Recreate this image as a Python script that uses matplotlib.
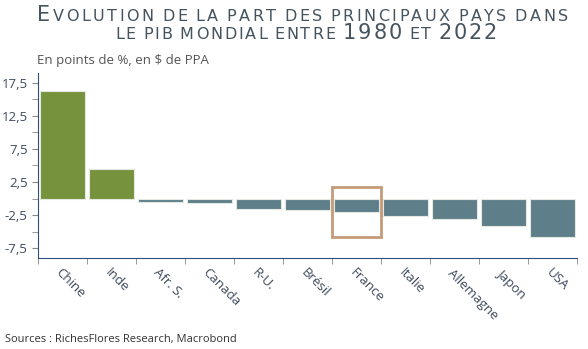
import numpy as np
import matplotlib.pyplot as plt
from matplotlib.patches import Rectangle

pays = ["Chine", "Inde", "Afr. S.", "Canada", "R-U.", "Brésil", "France",
        "Italie", "Allemagne", "Japon", "USA"]
variation = [16.2, 4.5, -0.5, -0.75, -1.6, -1.8, -2.0, -2.7, -3.1, -4.2, -5.8]
yticks = [-7.5, -2.5, 2.5, 7.5, 12.5, 17.5]
yticklabels = ["-7,5", "-2,5", "2,5", "7,5", "12,5", "17,5"]
highlight = "France"

vert = "#76923C"
bleu = "#5E7F8A"
titre_col = "#44535E"
texte_col = "#3E4A5C"

plt.rcParams['font.family'] = ['Open Sans', 'DejaVu Sans']

fig = plt.figure(figsize=(5.88, 3.49), dpi=100)
ax = fig.add_axes([38/588, 1-258/349, (577-38)/588, (258-73)/349])

x = np.arange(len(pays))
cols = [vert if v > 0 else bleu for v in variation]
ax.bar(x, variation, width=0.9, color=cols, edgecolor="#e3e8e0", linewidth=0.8, zorder=2)

i = pays.index(highlight)
ax.add_patch(Rectangle((i - 0.5, -5.8), 1.0, 7.5, fill=False,
                       edgecolor="#C49A78", linewidth=2.0, zorder=3))

ax.set_xlim(-0.5, len(pays) - 0.5)
ax.set_ylim(-9, 19)
ax.set_yticks(yticks)
ax.set_yticklabels(yticklabels)
ax.set_yticks([-5, 0, 5, 10, 15], minor=True)
ax.set_xticks(x)
ax.set_xticklabels(pays, rotation=-45, ha="left", va="top", rotation_mode="anchor")
ax.set_xticks(np.arange(len(pays) + 1) - 0.5, minor=True)
ax.tick_params(axis="x", which="major", length=0, pad=6, labelsize=9.5, labelcolor=texte_col)
ax.tick_params(axis="x", which="minor", length=4, color="#888888")
ax.tick_params(axis="y", which="both", length=4, color="#888888", labelsize=9.5, labelcolor=texte_col)

for s in ["top", "right"]:
    ax.spines[s].set_visible(False)
ax.spines["left"].set_color("#2F4E7E")
ax.spines["bottom"].set_color("#2F4E7E")

# title in small caps with letter spacing, placed char by char
renderer = fig.canvas.get_renderer()
W, H = fig.get_size_inches() * fig.dpi


def petites_caps(pieces, y_px, x0_px, x1_px):
    objs = []
    for txt, size in pieces:
        for c in txt:
            if c == " ":
                objs.append((None, size * 0.3))
            else:
                t = fig.text(0, 1 - y_px / H, c, fontsize=size, color=titre_col,
                             family="DejaVu Sans", va="baseline", ha="left")
                objs.append((t, t.get_window_extent(renderer).width))
    natural = sum(w for _, w in objs)
    track = (x1_px - x0_px - natural) / (len(objs) - 1)
    xpos = x0_px
    for t, w in objs:
        if t is not None:
            t.set_x(xpos / W)
        xpos += w + track


petites_caps([("E", 15), ("VOLUTION DE LA PART DES PRINCIPAUX PAYS DANS", 11.5)], 21, 37, 568)
petites_caps([("LE PIB MONDIAL ENTRE ", 11.5), ("1980", 15), (" ET ", 11.5), ("2022", 15)], 39, 115, 497)

fig.text(37/588, 1 - 64/349, "En points de %, en \\$ de PPA", fontsize=9.5, color="#555555")
fig.text(5/588, 1 - 342/349, "Sources : RichesFlores Research, Macrobond", fontsize=8, color="#333333")

fig.savefig("out.png", dpi=100)
